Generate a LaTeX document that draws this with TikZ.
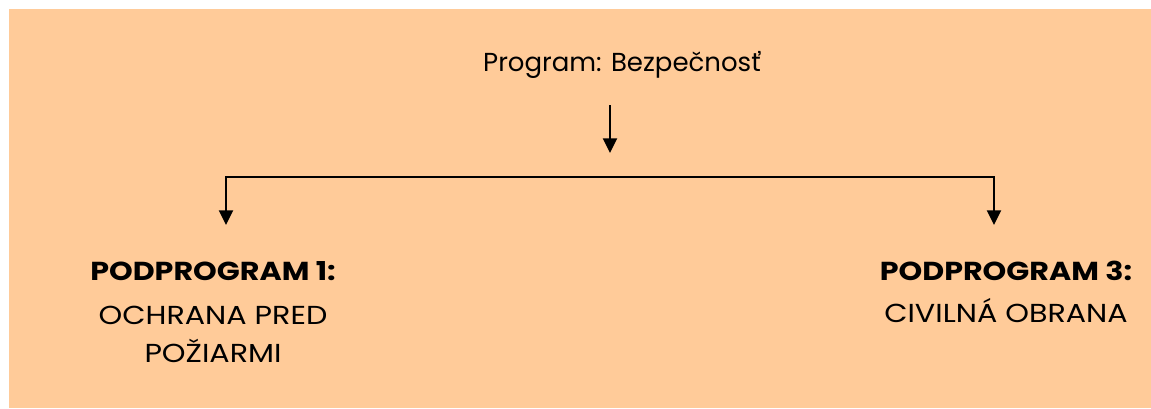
\documentclass[tikz,border=0pt]{standalone}
\usepackage{fontspec}
\setmainfont{Poppins}
\newfontfamily\widefont[FakeStretch=1.16]{Poppins}
\usetikzlibrary{arrows.meta}
\definecolor{bgorange}{HTML}{FFCB99}
\begin{document}
\begin{tikzpicture}[x=0.75pt,y=-0.75pt,
  lbl/.style={inner sep=0pt,anchor=base,font=\fontsize{19.5pt}{23pt}\selectfont},
  clbl/.style={inner sep=0pt,anchor=base,font=\widefont\fontsize{19.5pt}{23pt}\selectfont},
  blbl/.style={inner sep=0pt,anchor=base,font=\widefont\fontsize{19.5pt}{23pt}\selectfont\bfseries},
  conn/.style={line width=1.5pt,-{Triangle[width=10.5pt,length=11pt]}},
  bconn/.style={line width=1.5pt,{Triangle[width=10.5pt,length=11pt]}-{Triangle[width=10.5pt,length=11pt]}}]
\useasboundingbox (0,0) rectangle (1151,408);
\fill[bgorange] (9,9) rectangle (1151,408);
\node[lbl] (title) at (622,71) {Program: Bezpečnosť};
\node[blbl] (p1h) at (213,280) {PODPROGRAM 1:};
\node[clbl] (p1a) at (213,324) {OCHRANA PRED};
\node[clbl] (p1b) at (213,362) {POŽIARMI};
\node[blbl] (p3h) at (1006,280) {PODPROGRAM 3:};
\node[clbl] (p3a) at (1006,322) {CIVILNÁ OBRANA};
\coordinate (downstart) at (610,105);
\coordinate (downend) at (610,153);
\coordinate (lefttip) at (226,225);
\coordinate (leftcorner) at (226,177);
\coordinate (rightcorner) at (994,177);
\coordinate (righttip) at (994,225);
\draw[conn] (downstart) -- (downend);
\draw[bconn] (lefttip) -- (leftcorner) -- (rightcorner) -- (righttip);
\end{tikzpicture}
\end{document}
